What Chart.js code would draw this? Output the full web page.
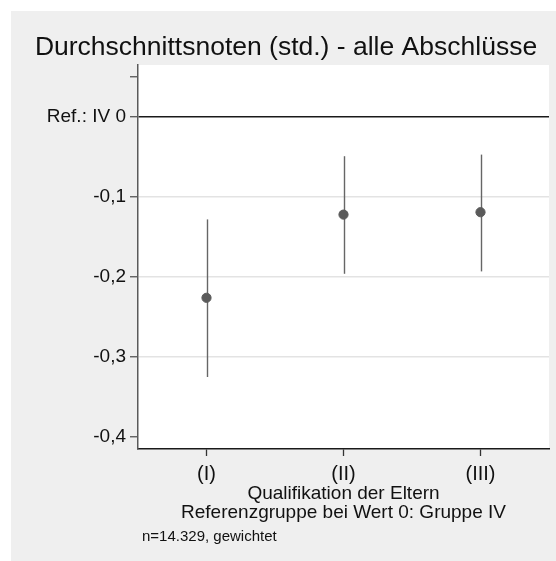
<!DOCTYPE html>
<html>
<head>
<meta charset="utf-8">
<script src="https://cdn.jsdelivr.net/npm/chart.js@4.4.1/dist/chart.umd.min.js"></script>
<style>
  html, body { margin: 0; padding: 0; background: #ffffff; }
  #wrap { width: 556px; height: 561px; }
</style>
</head>
<body>
<div id="wrap"><canvas id="c" width="556" height="561"></canvas></div>
<script>
// values
const groups = ['(I)', '(II)', '(III)'];
const coef = [-0.226, -0.122, -0.119];
const ciLow = [-0.325, -0.196, -0.193];
const ciHigh = [-0.128, -0.049, -0.047];
const yTickValues = [0.05, 0, -0.1, -0.2, -0.3, -0.4];
const yTickLabels = ['', 'Ref.: IV 0', '-0,1', '-0,2', '-0,3', '-0,4'];

const titleText = 'Durchschnittsnoten (std.) - alle Abschlüsse';
const xTitleLines = ['Qualifikation der Eltern', 'Referenzgruppe bei Wert 0: Gruppe IV'];
const noteText = 'n=14.329, gewichtet';

const FONT = '"Liberation Sans", Arial, sans-serif';
const BG = '#efefef';

// gray panel, white plot region, and the extra text
const frame = {
  id: 'frame',
  beforeDraw(chart) {
    const { ctx, chartArea: a } = chart;
    ctx.save();
    ctx.fillStyle = BG;
    ctx.fillRect(11, 11, chart.width - 11, chart.height - 11);
    ctx.fillStyle = '#ffffff';
    ctx.fillRect(a.left, a.top, a.right - a.left, a.bottom - a.top);
    ctx.restore();
  },
  afterDraw(chart) {
    const { ctx, chartArea: a } = chart;
    const mid = (a.left + a.right) / 2;
    ctx.save();
    ctx.fillStyle = '#111';
    ctx.textBaseline = 'alphabetic';
    ctx.textAlign = 'center';
    ctx.font = '26.5px ' + FONT;
    ctx.fillText(titleText, 286, 55);
    ctx.textBaseline = 'middle';
    ctx.font = '19px ' + FONT;
    ctx.fillText(xTitleLines[0], mid, 494);
    ctx.fillText(xTitleLines[1], mid, 513);
    ctx.textAlign = 'left';
    ctx.font = '15px ' + FONT;
    ctx.fillText(noteText, a.left + 4, 537);
    ctx.restore();
  }
};

// confidence interval spikes
const spikes = {
  id: 'spikes',
  beforeDatasetsDraw(chart) {
    const { ctx, scales: { x, y } } = chart;
    ctx.save();
    ctx.strokeStyle = '#666666';
    ctx.lineWidth = 1.4;
    groups.forEach((g, i) => {
      const px = Math.round(x.getPixelForValue(i + 1)) + 0.5;
      ctx.beginPath();
      ctx.moveTo(px, y.getPixelForValue(ciHigh[i]));
      ctx.lineTo(px, y.getPixelForValue(ciLow[i]));
      ctx.stroke();
    });
    ctx.restore();
  }
};

new Chart(document.getElementById('c'), {
  type: 'scatter',
  data: {
    datasets: [{
      data: coef.map((v, i) => ({ x: i + 1, y: v })),
      backgroundColor: '#5a5a5a',
      borderColor: '#5a5a5a',
      pointRadius: 4.6,
      pointHoverRadius: 4.6,
    }],
  },
  options: {
    responsive: false,
    animation: false,
    events: [],
    layout: { padding: { top: 65, right: 7, bottom: 0, left: 0 } },
    plugins: { legend: { display: false }, tooltip: { enabled: false } },
    scales: {
      x: {
        type: 'linear',
        min: 0.5,
        max: 3.5,
        afterBuildTicks: (s) => { s.ticks = groups.map((g, i) => ({ value: i + 1 })); },
        afterFit: (s) => { s.height = 112; },
        ticks: {
          callback: (v) => groups[v - 1] || '',
          color: '#111',
          font: { family: FONT, size: 20 },
          padding: 6,
          maxRotation: 0,
        },
        grid: { drawOnChartArea: false, tickLength: 7, tickColor: '#333', tickWidth: 1.3 },
        border: { color: '#1a1a1a', width: 1.5 },
      },
      y: {
        min: -0.415,
        max: 0.065,
        afterBuildTicks: (s) => { s.ticks = yTickValues.map((v) => ({ value: v })); },
        afterFit: (s) => { s.width = 138; },
        ticks: {
          callback: (v) => yTickLabels[yTickValues.indexOf(v)],
          color: '#111',
          font: { family: FONT, size: 19 },
          padding: 4,
        },
        grid: {
          tickLength: 8,
          tickColor: '#555',
          tickWidth: 1.3,
          lineWidth: (c) => (c.tick && c.tick.value === 0 ? 1.4 : 1.5),
          color: (c) => {
            const v = c.tick ? c.tick.value : null;
            if (v === 0) return '#1a1a1a';
            if (v === -0.1 || v === -0.2 || v === -0.3) return '#e3e3e3';
            return 'rgba(0,0,0,0)';
          },
        },
        border: { color: '#5a5a5a', width: 1.5 },
      },
    },
  },
  plugins: [frame, spikes],
});
</script>
</body>
</html>
